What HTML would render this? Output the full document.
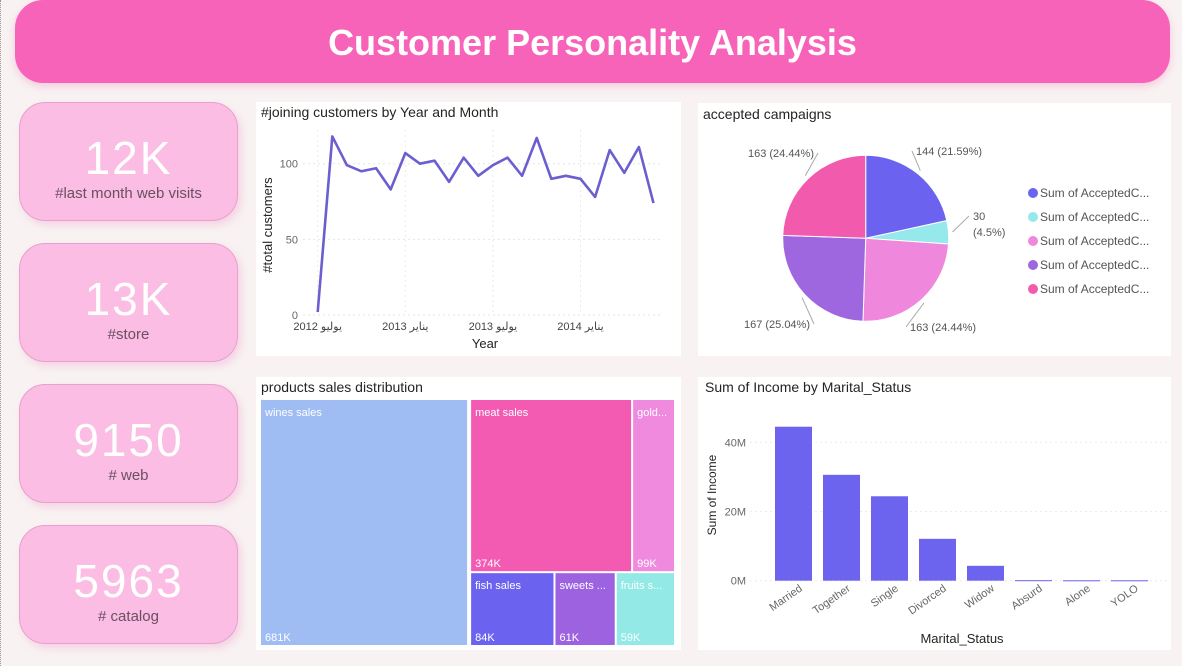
<!DOCTYPE html>
<html><head><meta charset="utf-8">
<style>
body{margin:0;width:1182px;height:666px;background:#f8f2f2;font-family:"Liberation Sans","DejaVu Sans",sans-serif;position:relative;overflow:hidden}
.hdr{position:absolute;left:15px;top:0;width:1155px;height:83px;background:#f663b9;border-radius:28px;box-shadow:0 3px 8px rgba(240,120,180,.35);color:#fff;font-weight:bold;font-size:36px;text-align:center;line-height:86px}
.card{position:absolute;left:19px;width:217px;height:117px;background:#fbbde3;border:1px solid #e8a0cc;border-radius:26px;box-shadow:3px 4px 8px rgba(240,150,200,.35);text-align:center}
.card .v{color:#fff;font-size:46px;margin-top:30px;line-height:50px;letter-spacing:2px}
.card .l{color:#6a5060;font-size:15px;margin-top:2px}
.panel{position:absolute;background:#fff}
.edge{position:absolute;left:0;top:0;width:0;height:666px;border-left:1px dotted #999}
svg{position:absolute;left:0;top:0}
</style></head><body>
<div class="edge"></div>
<div class="hdr">Customer Personality Analysis</div>
<div class="card" style="top:102px"><div class="v">12K</div><div class="l">#last month web visits</div></div>
<div class="card" style="top:243px"><div class="v">13K</div><div class="l">#store</div></div>
<div class="card" style="top:384px"><div class="v">9150</div><div class="l"># web</div></div>
<div class="card" style="top:525px"><div class="v">5963</div><div class="l"># catalog</div></div>
<div class="panel" style="left:256px;top:102px;width:425px;height:254px"></div>
<div class="panel" style="left:698px;top:103px;width:473px;height:253px"></div>
<div class="panel" style="left:256px;top:377px;width:425px;height:273px"></div>
<div class="panel" style="left:698px;top:377px;width:473px;height:273px"></div>
<svg id="s" width="1182" height="666" font-family="Liberation Sans, DejaVu Sans, sans-serif"></svg>
<script>
// line chart data
const joinValues=[2,118,99,95,97,83,107,100,102,88,104,92,99,104,92,117,90,92,90,78,109,94,111,74];
const joinTickLabels=["يوليو 2012","يناير 2013","يوليو 2013","يناير 2014"];
const joinTickIdx=[0,6,12,18];
const joinYTicks=[0,50,100];
// pie data
const campValues=[144,30,163,167,163];
const campLabels=["144 (21.59%)","30 (4.5%)","163 (24.44%)","167 (25.04%)","163 (24.44%)"];
const campColors=["#6b63ef","#95e9ea","#ef88dc","#9e66df","#f25aae"];
// treemap data
const prodNames=["wines sales","meat sales","gold...","fish sales","sweets ...","fruits s..."];
const prodValues=[681,374,99,84,61,59];
const prodLabels=["681K","374K","99K","84K","61K","59K"];
const prodColors=["#9fbcf3","#f35ab2","#f08adf","#6b63ef","#9d62df","#92e9e6"];
// bar data
const maritalCats=["Married","Together","Single","Divorced","Widow","Absurd","Alone","YOLO"];
const incomeValues=[44.5,30.6,24.4,12.1,4.3,0.15,0.12,0.12];
const incomeTicks=[0,20,40];

const S=document.getElementById('s');const NS='http://www.w3.org/2000/svg';
function el(tag,a,tx){const e=document.createElementNS(NS,tag);for(const k in a)e.setAttribute(k,a[k]);if(tx!==undefined)e.textContent=tx;S.appendChild(e);return e;}
function txt(x,y,s,o){return el('text',Object.assign({x:x,y:y,'font-size':12,fill:'#555'},o||{}),s);}

let tt;
tt=txt(261,117,"#joining customers by Year and Month",{'font-size':14,fill:'#252423'});
tt=txt(703,119,"accepted campaigns",{'font-size':14,fill:'#252423'});
tt=txt(261,392,"products sales distribution",{'font-size':14,fill:'#252423'});
tt=txt(705,392,"Sum of Income by Marital_Status",{'font-size':14,fill:'#252423'});

// line chart
const lx=i=>317.7+i*14.6, ly=v=>315-v*1.513;
joinYTicks.forEach(v=>{
  const g=el('line',{x1:303,x2:660,y1:ly(v),y2:ly(v),stroke:'#e6e6e6','stroke-dasharray':'2 3'});
  
  const l=txt(298,ly(v)+4,String(v),{'text-anchor':'end','font-size':11,fill:'#666'});
  
});
joinTickIdx.forEach((ix,k)=>{
  const g=el('line',{x1:lx(ix),x2:lx(ix),y1:130,y2:315,stroke:'#eaeaea','stroke-dasharray':'2 3'});
  
  const l=txt(lx(ix),330,joinTickLabels[k],{'text-anchor':'middle','font-size':11,fill:'#444'});
  
});
const pl=el('polyline',{points:joinValues.map((v,i)=>lx(i)+','+ly(v)).join(' '),fill:'none',stroke:'#6b5fd0','stroke-width':2.6,'stroke-linejoin':'round'});

tt=txt(485,348,"Year",{'text-anchor':'middle','font-size':13,fill:'#252423'});
tt=txt(272,225,"#total customers",{'text-anchor':'middle','font-size':13,fill:'#252423',transform:'rotate(-90 272 225)'});

// pie
const pcx=865.7,pcy=238.3,PR=83;const campTotal=campValues.reduce((a,b)=>a+b,0);let ang0=-Math.PI/2;
const lblPos=[[916,155,'start'],[973,220,'start'],[910,331,'start'],[810,328,'end'],[814,157,'end']];
campValues.forEach((v,i)=>{
  const a1=ang0+v/campTotal*2*Math.PI;
  const x0=pcx+PR*Math.cos(ang0),y0=pcy+PR*Math.sin(ang0),x1=pcx+PR*Math.cos(a1),y1=pcy+PR*Math.sin(a1);
  const p=el('path',{d:`M${pcx},${pcy}L${x0},${y0}A${PR},${PR} 0 ${a1-ang0>Math.PI?1:0} 1 ${x1},${y1}Z`,fill:campColors[i],stroke:'#fff','stroke-width':1});
  
  const am=(ang0+a1)/2,ex=pcx+(PR+4)*Math.cos(am),ey=pcy+(PR+4)*Math.sin(am);
  const [lxp,lyp,anc]=lblPos[i];
  const ln=el('polyline',{points:`${ex},${ey} ${anc==='start'?lxp-4:lxp+4},${lyp-4}`,fill:'none',stroke:'#aaa','stroke-width':1});
  
  if(i===1){
    const lb=txt(lxp,lyp,String(v),{'font-size':11,fill:'#555'});
    const lb2=txt(lxp,lyp+16,campLabels[i].split(' ')[1],{'font-size':11,fill:'#555'});
  } else {
    const lb=txt(lxp,lyp,campLabels[i],{'font-size':11,fill:'#555','text-anchor':anc});
  }
  ang0=a1;
});
campColors.forEach((c,i)=>{
  const d=el('circle',{cx:1033,cy:193+i*24,r:5,fill:c});
  const l=txt(1040,197+i*24,"Sum of AcceptedC...",{'font-size':12,fill:'#555'});
});

// treemap
const TX=261,TY=400,TW=415,TH=245,gap=2;
const prodTotal=prodValues.reduce((a,b)=>a+b,0);
const tiles=[];
const w0=TW*prodValues[0]/prodTotal;tiles.push([TX,TY,w0,TH]);
const restX=TX+w0+gap,restW=TW-w0-gap,restSum=prodTotal-prodValues[0];
const topSum=prodValues[1]+prodValues[2],topH=TH*topSum/restSum;
let cursor=restX;[1,2].forEach(i=>{const w=restW*prodValues[i]/topSum;tiles.push([cursor,TY,w,topH]);cursor+=w;});
const botSum=prodValues[3]+prodValues[4]+prodValues[5];cursor=restX;
[3,4,5].forEach(i=>{const w=restW*prodValues[i]/botSum;tiles.push([cursor,TY+topH+gap,w,TH-topH-gap]);cursor+=w;});
tiles.forEach((r,i)=>{
  const rc=el('rect',{x:r[0],y:r[1],width:Math.max(0,r[2]-gap),height:r[3],fill:prodColors[i]});
  
  const n=txt(r[0]+4,r[1]+16,prodNames[i],{'font-size':11,fill:'#fff'});
  const v=txt(r[0]+4,r[1]+r[3]-4,prodLabels[i],{'font-size':11,fill:'#fff'});
});

// bar chart
const by=v=>580.7-v*3.46, bx=i=>775+i*48;
incomeTicks.forEach(v=>{
  const g=el('line',{x1:750,x2:1167,y1:by(v),y2:by(v),stroke:'#ececec','stroke-dasharray':'2 3'});
  
  const l=txt(746,by(v)+4,v+'M',{'text-anchor':'end','font-size':11,fill:'#666'});
  
});
maritalCats.forEach((c,i)=>{
  const b=el('rect',{x:bx(i),y:by(incomeValues[i]),width:37,height:Math.max(1,580.7-by(incomeValues[i])),fill:'#6c63ef'});
  
  const X=bx(i)+28,Y=590;
  const l=txt(X,Y,c,{'text-anchor':'end','font-size':11,fill:'#666',transform:`rotate(-35 ${X} ${Y})`});
  
});
tt=txt(962,643,"Marital_Status",{'text-anchor':'middle','font-size':13,fill:'#252423'});
tt=txt(716,495,"Sum of Income",{'text-anchor':'middle','font-size':12,fill:'#252423',transform:'rotate(-90 716 495)'});
</script>
</body></html>
